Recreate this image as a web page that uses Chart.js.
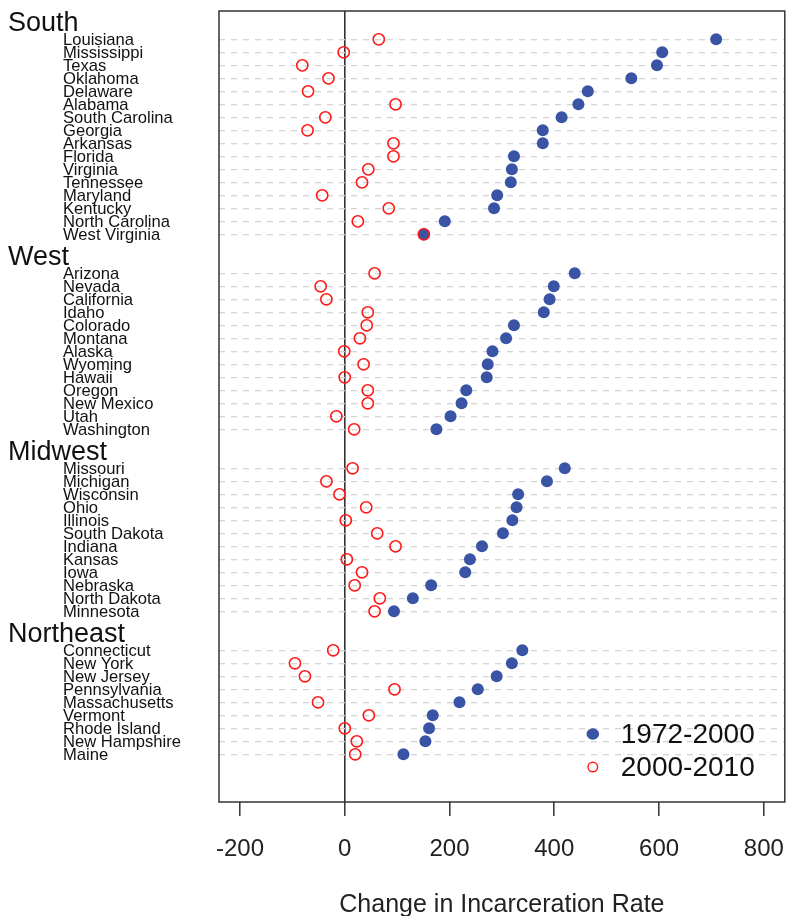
<!DOCTYPE html>
<html>
<head>
<meta charset="utf-8">
<script src="https://cdn.jsdelivr.net/npm/chart.js@4.4.1/dist/chart.umd.min.js"></script>
<style>
  html, body { margin: 0; padding: 0; background: #fff; overflow: hidden; width: 787px; height: 916px; }
  #wrap { width: 792px; height: 916px; }
</style>
</head>
<body>
<div id="wrap"><canvas id="c" width="792" height="916"></canvas></div>
<script>
// ---- Data ----
const regionNames = ['South', 'West', 'Midwest', 'Northeast'];

const southStates = ['Louisiana','Mississippi','Texas','Oklahoma','Delaware','Alabama','South Carolina','Georgia','Arkansas','Florida','Virginia','Tennessee','Maryland','Kentucky','North Carolina','West Virginia'];
const south7200 = [709, 606, 596, 547, 464, 446, 414, 378, 378, 323, 319, 317, 291, 285, 191, 151];
const south0010 = [65, -2, -81, -31, -70, 97, -37, -71, 93, 93, 45, 33, -43, 84, 25, 151];

const westStates = ['Arizona','Nevada','California','Idaho','Colorado','Montana','Alaska','Wyoming','Hawaii','Oregon','New Mexico','Utah','Washington'];
const west7200 = [439, 399, 391, 380, 323, 308, 282, 273, 271, 232, 223, 202, 175];
const west0010 = [57, -46, -35, 44, 42, 29, -1, 36, 0, 44, 44, -16, 18];

const midwestStates = ['Missouri','Michigan','Wisconsin','Ohio','Illinois','South Dakota','Indiana','Kansas','Iowa','Nebraska','North Dakota','Minnesota'];
const midwest7200 = [420, 386, 331, 328, 320, 302, 262, 239, 230, 165, 130, 94];
const midwest0010 = [15, -35, -10, 41, 2, 62, 97, 4, 33, 19, 67, 57];

const northeastStates = ['Connecticut','New York','New Jersey','Pennsylvania','Massachusetts','Vermont','Rhode Island','New Hampshire','Maine'];
const northeast7200 = [339, 319, 290, 254, 219, 168, 161, 154, 112];
const northeast0010 = [-22, -95, -76, 95, -51, 46, 0, 23, 20];

const xTickValues = [-200, 0, 200, 400, 600, 800];
const seriesNames = ['1972-2000', '2000-2010'];
const xTitle = 'Change in Incarceration Rate';

// ---- Build rows ----
const groups = [
  { name: regionNames[0], states: southStates, a: south7200, b: south0010 },
  { name: regionNames[1], states: westStates, a: west7200, b: west0010 },
  { name: regionNames[2], states: midwestStates, a: midwest7200, b: midwest0010 },
  { name: regionNames[3], states: northeastStates, a: northeast7200, b: northeast0010 }
];
const stateLabels = [];
const headerLabels = [];
const ptsA = [];
const ptsB = [];
let row = 0;
groups.forEach(g => {
  headerLabels.push({ name: g.name, y: row });
  g.states.forEach((s, i) => {
    stateLabels.push({ name: s, y: row });
    ptsA.push({ x: g.a[i], y: row });
    ptsB.push({ x: g.b[i], y: row });
    row++;
  });
  row += 2;
});
const lastRow = row - 3;

const BLUE = '#3A54A5';
const RED = '#FF1A1A';
const FONT = "'Liberation Sans', Arial, Helvetica, sans-serif";

const decor = {
  id: 'decor',
  beforeDatasetsDraw(chart) {
    const { ctx, chartArea: ca } = chart;
    ctx.save();
    ctx.strokeStyle = '#333';
    ctx.lineWidth = 1.5;
    ctx.strokeRect(ca.left, ca.top, ca.right - ca.left, ca.bottom - ca.top);
    ctx.restore();
  },
  afterDraw(chart) {
    const { ctx, chartArea: ca } = chart;
    const ys = chart.scales.y;
    const xs = chart.scales.x;
    ctx.save();
    ctx.fillStyle = '#111';
    ctx.textAlign = 'left';
    ctx.textBaseline = 'alphabetic';
    ctx.font = '16.6px ' + FONT;
    stateLabels.forEach(l => {
      ctx.fillText(l.name, ca.left - 156, ys.getPixelForValue(l.y) + 6);
    });
    ctx.font = '27px ' + FONT;
    headerLabels.forEach(h => {
      ctx.fillText(h.name, ca.left - 211, ys.getPixelForValue(h.y - 0.66));
    });
    // x tick labels
    ctx.fillStyle = '#222';
    ctx.font = '24px ' + FONT;
    ctx.textAlign = 'center';
    xTickValues.forEach(v => {
      ctx.fillText(String(v), xs.getPixelForValue(v), ca.bottom + 54);
    });
    // legend
    const lx = ca.right - 192;
    const ly1 = ca.bottom - 68;
    const ly2 = ca.bottom - 35;
    ctx.fillStyle = BLUE;
    ctx.beginPath();
    ctx.ellipse(lx, ly1, 6.3, 5.8, 0, 0, Math.PI * 2);
    ctx.fill();
    ctx.strokeStyle = RED;
    ctx.lineWidth = 1.4;
    ctx.beginPath();
    ctx.arc(lx, ly2, 4.8, 0, Math.PI * 2);
    ctx.stroke();
    ctx.fillStyle = '#111';
    ctx.font = '28px ' + FONT;
    ctx.textAlign = 'left';
    ctx.textBaseline = 'middle';
    ctx.fillText(seriesNames[0], lx + 28, ly1 + 1);
    ctx.fillText(seriesNames[1], lx + 28, ly2 + 1);
    ctx.restore();
  }
};

new Chart(document.getElementById('c'), {
  type: 'scatter',
  data: {
    datasets: [
      {
        label: seriesNames[0],
        data: ptsA,
        order: 2,
        pointStyle: 'circle',
        pointRadius: 6,
        pointBackgroundColor: BLUE,
        pointBorderColor: BLUE,
        pointBorderWidth: 0,
        showLine: false
      },
      {
        label: seriesNames[1],
        data: ptsB,
        order: 1,
        pointStyle: 'circle',
        pointRadius: 5.6,
        pointBackgroundColor: 'rgba(0,0,0,0)',
        pointBorderColor: RED,
        pointBorderWidth: 1.6,
        showLine: false
      }
    ]
  },
  options: {
    responsive: false,
    animation: false,
    events: [],
    layout: { padding: { top: 11, right: 1, left: 0, bottom: 0 } },
    plugins: { legend: { display: false }, tooltip: { enabled: false } },
    scales: {
      x: {
        type: 'linear',
        min: -240,
        max: 840,
        afterBuildTicks: axis => { axis.ticks = xTickValues.map(v => ({ value: v })); },
        afterFit: scale => { scale.height = 114; scale.paddingLeft = 0; scale.paddingRight = 0; },
        border: { display: false },
        grid: {
          drawOnChartArea: true,
          color: ctx => (ctx.tick && ctx.tick.value === 0) ? '#333' : 'rgba(0,0,0,0)',
          lineWidth: 1.6,
          drawTicks: true,
          tickLength: 14,
          tickColor: '#333',
          tickWidth: 1.5
        },
        ticks: { display: false },
        title: {
          display: true,
          text: xTitle,
          color: '#222',
          font: { family: FONT, size: 25 },
          padding: { top: 0, bottom: -4 }
        }
      },
      y: {
        type: 'linear',
        reverse: true,
        min: -2.18,
        max: lastRow + 3.67,
        afterBuildTicks: axis => { axis.ticks = stateLabels.map(l => ({ value: l.y })); },
        afterFit: scale => { scale.width = 219; scale.paddingTop = 0; scale.paddingBottom = 0; },
        ticks: { display: false },
        border: { display: false, dash: [6, 6] },
        grid: {
          drawOnChartArea: true,
          drawTicks: false,
          color: '#D4D4D4',
          lineWidth: 1.3
        }
      }
    }
  },
  plugins: [decor]
});
</script>
</body>
</html>
